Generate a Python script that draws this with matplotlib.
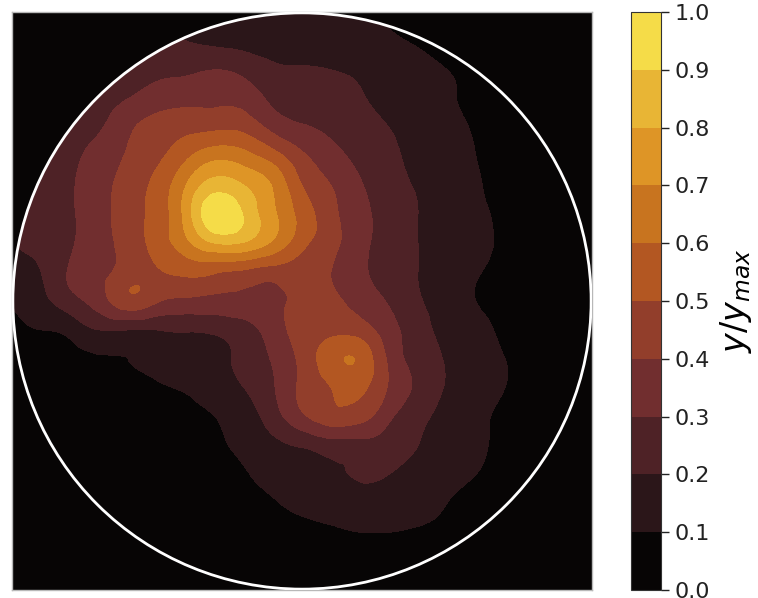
import numpy as np
import matplotlib
matplotlib.use("Agg")
import matplotlib.pyplot as plt
import matplotlib.tri as mtri
from matplotlib.colors import ListedColormap, BoundaryNorm
from matplotlib.patches import Circle

# Sampling grid of the normalised intensity y/y_max (x, y in units of the disc radius)
grid_x = np.round(np.linspace(-1.0, 1.0, 21), 2)
grid_y = np.round(np.linspace(1.0, -1.0, 21), 2)   # top row first

# Normalised intensity on the grid, one row per grid_y value
intensity = [
    [0.22, 0.22, 0.22, 0.22, 0.22, 0.21, 0.19, 0.17, 0.16, 0.15, 0.14, 0.13, 0.12, 0.10, 0.08, 0.05, 0.04, 0.03, 0.03, 0.03, 0.03],
    [0.23, 0.23, 0.23, 0.23, 0.23, 0.21, 0.20, 0.18, 0.17, 0.16, 0.15, 0.14, 0.13, 0.11, 0.09, 0.06, 0.04, 0.03, 0.03, 0.03, 0.03],
    [0.24, 0.24, 0.24, 0.24, 0.24, 0.27, 0.28, 0.30, 0.27, 0.22, 0.21, 0.20, 0.18, 0.15, 0.13, 0.10, 0.08, 0.05, 0.03, 0.03, 0.03],
    [0.25, 0.25, 0.26, 0.26, 0.30, 0.35, 0.37, 0.38, 0.36, 0.28, 0.26, 0.25, 0.21, 0.17, 0.14, 0.11, 0.08, 0.05, 0.04, 0.03, 0.03],
    [0.26, 0.27, 0.27, 0.29, 0.38, 0.44, 0.47, 0.48, 0.47, 0.37, 0.31, 0.28, 0.24, 0.20, 0.16, 0.13, 0.09, 0.06, 0.04, 0.03, 0.03],
    [0.25, 0.26, 0.28, 0.34, 0.41, 0.48, 0.58, 0.67, 0.64, 0.55, 0.42, 0.34, 0.27, 0.22, 0.17, 0.13, 0.10, 0.06, 0.04, 0.03, 0.03],
    [0.24, 0.25, 0.29, 0.36, 0.44, 0.53, 0.70, 0.85, 0.80, 0.69, 0.50, 0.40, 0.31, 0.24, 0.19, 0.15, 0.11, 0.07, 0.05, 0.04, 0.03],
    [0.25, 0.26, 0.29, 0.36, 0.45, 0.54, 0.74, 0.98, 0.89, 0.72, 0.56, 0.43, 0.33, 0.26, 0.20, 0.16, 0.12, 0.08, 0.05, 0.04, 0.03],
    [0.20, 0.24, 0.29, 0.36, 0.44, 0.54, 0.67, 0.80, 0.79, 0.68, 0.53, 0.43, 0.33, 0.26, 0.20, 0.16, 0.13, 0.08, 0.05, 0.04, 0.03],
    [0.16, 0.20, 0.31, 0.37, 0.45, 0.49, 0.52, 0.51, 0.48, 0.45, 0.44, 0.40, 0.32, 0.26, 0.20, 0.16, 0.11, 0.07, 0.05, 0.04, 0.03],
    [0.11, 0.17, 0.26, 0.35, 0.47, 0.41, 0.38, 0.37, 0.37, 0.38, 0.42, 0.42, 0.36, 0.29, 0.21, 0.16, 0.10, 0.07, 0.05, 0.04, 0.03],
    [0.07, 0.10, 0.13, 0.20, 0.20, 0.20, 0.21, 0.22, 0.26, 0.35, 0.44, 0.47, 0.45, 0.34, 0.24, 0.17, 0.13, 0.08, 0.05, 0.04, 0.03],
    [0.04, 0.05, 0.07, 0.09, 0.10, 0.12, 0.15, 0.17, 0.23, 0.31, 0.43, 0.56, 0.58, 0.38, 0.26, 0.19, 0.14, 0.10, 0.06, 0.04, 0.03],
    [0.03, 0.03, 0.04, 0.05, 0.07, 0.09, 0.11, 0.15, 0.20, 0.29, 0.42, 0.50, 0.52, 0.39, 0.28, 0.19, 0.14, 0.10, 0.06, 0.04, 0.03],
    [0.02, 0.02, 0.02, 0.03, 0.04, 0.05, 0.07, 0.10, 0.16, 0.25, 0.38, 0.46, 0.44, 0.32, 0.23, 0.16, 0.12, 0.08, 0.05, 0.04, 0.03],
    [0.02, 0.02, 0.02, 0.02, 0.03, 0.03, 0.04, 0.07, 0.13, 0.17, 0.21, 0.25, 0.26, 0.25, 0.20, 0.15, 0.12, 0.07, 0.04, 0.03, 0.03],
    [0.02, 0.02, 0.02, 0.02, 0.02, 0.02, 0.03, 0.04, 0.09, 0.13, 0.17, 0.19, 0.21, 0.20, 0.16, 0.13, 0.10, 0.05, 0.03, 0.03, 0.02],
    [0.02, 0.02, 0.02, 0.02, 0.02, 0.02, 0.02, 0.03, 0.06, 0.09, 0.13, 0.14, 0.15, 0.14, 0.13, 0.10, 0.06, 0.04, 0.03, 0.02, 0.02],
    [0.02, 0.02, 0.02, 0.02, 0.02, 0.02, 0.02, 0.02, 0.03, 0.05, 0.07, 0.09, 0.10, 0.10, 0.09, 0.07, 0.04, 0.03, 0.02, 0.02, 0.02],
    [0.02, 0.02, 0.02, 0.02, 0.02, 0.02, 0.02, 0.02, 0.02, 0.03, 0.04, 0.05, 0.05, 0.05, 0.04, 0.03, 0.02, 0.02, 0.02, 0.02, 0.02],
    [0.02, 0.02, 0.02, 0.02, 0.02, 0.02, 0.02, 0.02, 0.02, 0.02, 0.02, 0.02, 0.02, 0.02, 0.02, 0.02, 0.02, 0.02, 0.02, 0.02, 0.02],
]

# Contour levels / colour bar ticks
level_ticks = [0.0, 0.1, 0.2, 0.3, 0.4, 0.5, 0.6, 0.7, 0.8, 0.9, 1.0]
band_colors = ["#070505", "#2b1619", "#4e2226", "#712e2f", "#923e2b",
               "#b35722", "#c8741f", "#de9526", "#e8b535", "#f5dc48"]
cbar_label = r"$y/y_{max}$"

cmap = ListedColormap(band_colors)
norm = BoundaryNorm(level_ticks, cmap.N)

X, Y = np.meshgrid(grid_x, grid_y)
Z = np.array(intensity)

triang = mtri.Triangulation(X.ravel(), Y.ravel())
refiner = mtri.UniformTriRefiner(triang)
tri_fine, z_fine = refiner.refine_field(Z.ravel(), subdiv=4)
z_fine = np.clip(z_fine, 0.0, 1.0)

fig = plt.figure(figsize=(7.58, 5.98), dpi=100)
ax = fig.add_axes([12 / 758, 8 / 598, 580 / 758, 578 / 598])
cax = fig.add_axes([631 / 758, 8 / 598, 30 / 758, 578 / 598])

ax.set_facecolor(band_colors[0])
cs = ax.tricontourf(tri_fine, z_fine, levels=level_ticks, cmap=cmap, norm=norm)
disc = Circle((0, 0), 1.0, transform=ax.transData)
cs.set_clip_path(disc)
ax.add_patch(Circle((0, 0), 0.997, fill=False, edgecolor="white", linewidth=2.0, zorder=5))

ax.set_xlim(-1, 1)
ax.set_ylim(-1, 1)
ax.set_xticks([])
ax.set_yticks([])
for sp in ax.spines.values():
    sp.set_edgecolor("#b8b8b8")
    sp.set_linewidth(1.0)

cb = fig.colorbar(cs, cax=cax)
cb.set_ticks(level_ticks, labels=[f"{v:.1f}" for v in level_ticks])
cb.ax.tick_params(labelsize=16, length=6, width=1, colors="#222222")
cb.outline.set_edgecolor("#333333")
cb.set_label(cbar_label, fontsize=24, labelpad=6)

fig.savefig("out.png", dpi=100)
